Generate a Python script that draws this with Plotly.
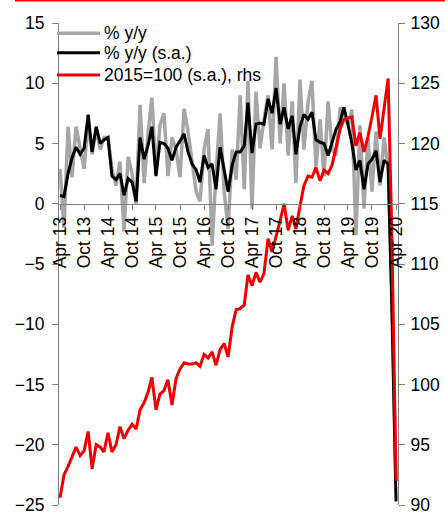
import plotly.graph_objects as go
import pandas as pd

months = pd.date_range("2013-04-01", "2020-04-01", freq="MS")

yy = [2.9, -2.0, 6.4, 2.2, 6.4, 4.6, 2.9, 6.8, 4.1, 6.2,
      4.5, 5.5, 5.5, 2.9, 1.5, 3.5, -2.3, 3.9, 2.5, 0.0,
      8.2, 1.7, 6.0, 8.8, 2.5, 6.5, 7.5, 2.3, 5.5, 4.5,
      2.2, 7.9, 6.0, 3.5, 1.0, 0.2, 4.5, 6.2, -3.5, 2.5,
      7.5, 1.0, -2.1, 4.5, 2.0, 9.0, 1.2, 10.2, -0.4, 9.3,
      4.6, 7.0, 9.0, 4.5, 12.2, 5.0, 10.0, 4.0, 8.5, 1.7,
      10.3, 4.5, 8.4, 10.2, 3.0, 7.0, 2.3, 8.5, 4.5, 4.0,
      8.0, 7.5, 6.5, 7.8, -2.6, 6.5, -0.4, 5.4, 1.0, 6.0,
      1.5, 5.5, 2.9, -7.5, -23.0]

yy_sa = [0.7, 0.6, 2.5, 3.8, 4.7, 4.1, 4.6, 7.4, 4.3, 6.4,
         5.0, 5.3, 5.5, 2.3, 2.0, 2.5, 0.7, 2.1, 1.8, 0.2,
         5.5, 3.7, 4.9, 6.4, 2.3, 5.1, 5.0, 4.6, 3.6, 4.7,
         5.2, 5.8, 4.3, 3.3, 2.8, 1.8, 4.0, 3.0, 3.3, 1.2,
         4.7, 2.9, 1.0, 3.2, 4.3, 4.3, 4.8, 8.4, 4.2, 6.6,
         6.7, 6.6, 8.7, 7.5, 9.6, 6.6, 8.0, 6.2, 7.3, 4.1,
         6.4, 7.4, 7.0, 7.6, 5.3, 5.1, 5.0, 4.0, 5.0, 6.2,
         6.8, 8.0, 6.6, 5.0, 2.8, 3.6, 1.2, 3.3, 3.7, 4.4,
         1.8, 3.6, 3.3, -9.0, -24.7]

index_sa = [90.6, 92.5, 93.2, 94.0, 94.8, 94.1, 94.5, 96.1, 93.0, 95.0,
            94.8, 94.4, 96.0, 94.4, 95.0, 96.5, 95.5, 96.2, 96.7, 96.3,
            97.9, 98.5, 99.4, 100.6, 97.9, 99.2, 99.5, 100.4, 98.3, 100.5,
            101.3, 101.8, 101.7, 101.7, 101.8, 101.5, 102.5, 102.2, 102.7, 101.6,
            102.9, 103.4, 102.3, 104.8, 106.2, 106.3, 106.6, 109.1, 108.2, 109.3,
            108.5, 109.2, 112.1, 111.0, 112.2, 113.6, 115.0, 112.8, 114.0, 112.9,
            114.8, 116.5, 117.3, 117.2, 118.0, 116.9, 117.8, 117.5, 118.2, 119.8,
            121.2, 122.0, 122.1, 122.2, 119.8, 120.9, 119.3, 120.6, 122.2, 124.0,
            120.4, 123.0, 125.4, 112.0, 92.0]

names = ["% y/y", "% y/y (s.a.)", "2015=100 (s.a.), rhs"]
colors = ["#a6a6a6", "#000000", "#ee0000"]
widths = [3.5, 3, 3]
legend_px_y = [33.3, 52.7, 75.0]

FONT = "Liberation Sans, Arial, sans-serif"
FS = 17.5
AXC = "#808080"
T, B, H = 23, 10, 515
PH = H - T - B


def py2paper(py):
    return (H - B - py) / PH


fig = go.Figure()
fig.add_trace(go.Scatter(x=months, y=yy, name=names[0], mode="lines",
                         line=dict(color=colors[0], width=widths[0]), yaxis="y"))
fig.add_trace(go.Scatter(x=months, y=yy_sa, name=names[1], mode="lines",
                         line=dict(color=colors[1], width=widths[1]), yaxis="y"))
fig.add_trace(go.Scatter(x=months, y=index_sa, name=names[2], mode="lines",
                         line=dict(color=colors[2], width=widths[2]), yaxis="y2"))

shapes = [dict(type="line", xref="paper", yref="paper",
               x0=-0.13, x1=1.14, y0=py2paper(0.5), y1=py2paper(0.5),
               line=dict(color="#ee0000", width=2))]
annotations = []
for name, c, w, lpy in zip(names, colors, widths, legend_px_y):
    ly = py2paper(lpy)
    shapes.append(dict(type="line", xref="paper", yref="paper",
                       x0=-0.006, x1=0.121, y0=ly, y1=ly,
                       line=dict(color=c, width=w)))
    annotations.append(dict(text=name, xref="paper", yref="paper",
                            x=0.128, y=ly, xanchor="left", yanchor="middle",
                            showarrow=False, font=dict(size=FS, color="black")))

fig.update_layout(
    width=445, height=H,
    margin=dict(l=59, r=47, t=T, b=B, autoexpand=False),
    paper_bgcolor="white", plot_bgcolor="white",
    font=dict(family=FONT, size=FS, color="black"),
    showlegend=False,
    xaxis=dict(type="date", range=["2013-03-24", "2020-04-16"],
               anchor="free", position=0.625,
               showline=True, linecolor=AXC, linewidth=1,
               ticks="outside", ticklen=5, tickcolor=AXC,
               tick0="2013-04-01", dtick="M6", tickformat="%b %y",
               tickangle=-90, tickfont=dict(size=FS),
               showgrid=False, zeroline=False),
    yaxis=dict(range=[-25, 15], dtick=5, showline=True, linecolor=AXC,
               ticks="outside", ticklen=6, tickcolor=AXC,
               ticklabelstandoff=4, ticklabeloverflow="allow",
               showgrid=False, zeroline=False, tickfont=dict(size=FS)),
    yaxis2=dict(range=[90, 130], dtick=5, overlaying="y", side="right",
                showline=True, linecolor=AXC, ticks="outside", ticklen=6,
                tickcolor=AXC, ticklabelstandoff=2, ticklabeloverflow="allow",
                showgrid=False, zeroline=False, tickfont=dict(size=FS)),
    shapes=shapes,
    annotations=annotations,
)

fig.write_html("out.html", config={"displayModeBar": False},
               post_script="document.body.style.margin='0';document.body.style.overflow='hidden';")
